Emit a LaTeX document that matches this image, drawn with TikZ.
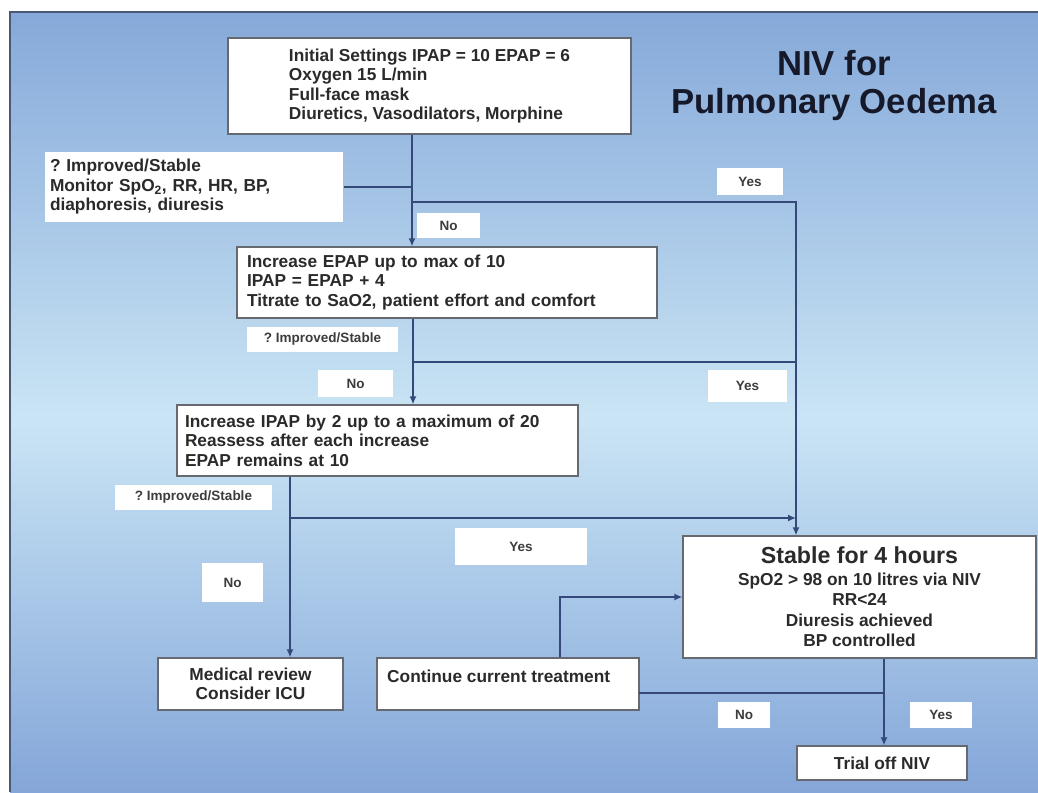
\documentclass[tikz,border=0pt]{standalone}
\usepackage{fontspec}
\setmainfont{Liberation Sans}
\usetikzlibrary{arrows.meta}
\definecolor{bgtop}{HTML}{86A9D9}
\definecolor{bgmid}{HTML}{C9E4F4}
\definecolor{bgbot}{HTML}{84A6D8}
\definecolor{framec}{HTML}{4A5874}
\definecolor{linec}{HTML}{34497A}
\definecolor{boxc}{HTML}{666A70}
\definecolor{txtc}{HTML}{2A2A2A}
\definecolor{labtxt}{HTML}{3C3C3C}
\definecolor{titlec}{HTML}{16192A}
\frenchspacing
\newcommand\mainfnt{\fontsize{17.3}{19.5}\selectfont\bfseries\frenchspacing}
\newcommand\labfnt{\fontsize{13.5}{15}\selectfont\bfseries\frenchspacing}
\begin{document}
\begin{tikzpicture}[x=1pt,y=-1pt,
  box/.style={draw=boxc, line width=1.3pt, fill=white, inner sep=0pt, font=\mainfnt, text=txtc},
  lab/.style={fill=white, inner sep=0pt, font=\labfnt, text=labtxt},
  conn/.style={draw=linec, line width=1.4pt},
  arr/.style={conn, -{Latex[length=8pt,width=7pt]}}]
\useasboundingbox (0,0) rectangle (1038,792);
\fill[white] (0,0) rectangle (1038,792);
% vertical gradient as thin strips
\foreach \i in {0,...,50} {
  \pgfmathsetmacro\ya{12+\i*8}
  \pgfmathsetmacro\yb{\ya+8.6}
  \pgfmathsetmacro\pc{100-\i*2}
  \fill[bgtop!\pc!bgmid] (10,\ya) rectangle (1038,\yb);
}
\foreach \i in {0,...,46} {
  \pgfmathsetmacro\ya{420+\i*8}
  \pgfmathsetmacro\yb{\ya+8.6}
  \pgfmathsetmacro\pc{100-\i*100/46}
  \fill[bgmid!\pc!bgbot] (10,\ya) rectangle (1038,\yb);
}
\draw[framec, line width=1.6pt] (10,792) -- (10,12) -- (1038,12);

% title
\node[font=\fontsize{34.7}{38}\selectfont\bfseries, text=titlec, align=center] (title) at (834,86) {NIV for\\Pulmonary Oedema};

% boxes
\node[box, minimum width=403pt, minimum height=96pt, align=left] (b1) at (429.5,86)
  {Initial Settings IPAP = 10 EPAP = 6\\Oxygen 15 L/min\\Full-face mask\\Diuretics, Vasodilators, Morphine};
\node[box, draw=none, minimum width=298pt, minimum height=70pt, text width=288pt, align=left] (mon) at (194,187)
  {? Improved/Stable\\Monitor SpO\textsubscript{2}, RR, HR, BP,\\diaphoresis, diuresis};
\node[box, minimum width=420pt, minimum height=71pt, text width=400pt, align=left] (b3) at (447,282.5)
  {Increase EPAP up to max of 10\\IPAP = EPAP + 4\\Titrate to SaO2, patient effort and comfort};
\node[box, minimum width=401pt, minimum height=71pt, text width=385pt, align=left] (b4) at (377.5,440.5)
  {Increase IPAP by 2 up to a maximum of 20\\Reassess after each increase\\EPAP remains at 10};
\node[box, minimum width=185pt, minimum height=52pt, align=center] (med) at (250.5,684)
  {Medical review\\Consider ICU};
\node[box, minimum width=262pt, minimum height=52pt] (cont) at (508,684) {};
\node[font=\mainfnt, text=txtc, anchor=west, inner sep=0pt] (conttxt) at (387,676) {Continue current treatment};
\node[box, minimum width=353pt, minimum height=122pt, align=center, font=\fontsize{17.3}{20.5}\selectfont\bfseries] (stab) at (859.5,597)
  {{\fontsize{23.2}{26}\selectfont Stable for 4 hours}\\[1pt]SpO2 > 98 on 10 litres via NIV\\RR<24\\Diuresis achieved\\BP controlled};
\node[box, minimum width=170pt, minimum height=34pt] (trial) at (882,763) {Trial off NIV};

% labels
\node[lab, minimum width=66pt, minimum height=27pt] (yes1) at (750,181.5) {Yes};
\node[lab, minimum width=63pt, minimum height=25pt] (no1) at (448.5,225.5) {No};
\node[lab, minimum width=151pt, minimum height=25pt] (imp2) at (322.5,339.5) {? Improved/Stable};
\node[lab, minimum width=75pt, minimum height=27pt] (no2) at (355.5,383.5) {No};
\node[lab, minimum width=79pt, minimum height=32pt] (yes2) at (747.5,386) {Yes};
\node[lab, minimum width=157pt, minimum height=25pt] (imp3) at (193.5,497.5) {? Improved/Stable};
\node[lab, minimum width=132pt, minimum height=37pt] (yes3) at (521,546.5) {Yes};
\node[lab, minimum width=61pt, minimum height=39pt] (no3) at (232.5,582.5) {No};
\node[lab, minimum width=52pt, minimum height=26pt] (no4) at (744,715) {No};
\node[lab, minimum width=62pt, minimum height=26pt] (yes4) at (941,715) {Yes};

% connector helper coordinates
\coordinate (sp1) at (412,0);
\coordinate (sp2) at (413,0);
\coordinate (sp3) at (290,0);
\coordinate (rx) at (796,0);
\coordinate (j1) at (412,202);
\coordinate (j2) at (413,362);
\coordinate (j3) at (290,518);
\coordinate (cx) at (560,0);
\coordinate (tx) at (884,0);
\coordinate (j4) at (639,693);

% connectors
\draw[arr] (b1.south -| sp1) -- (b3.north -| sp1);
\draw[conn] (mon.east) -- (mon.east -| sp1);
\draw[arr] (j1) -| (stab.north -| rx);
\draw[arr] (b3.south -| sp2) -- (b4.north -| sp2);
\draw[conn] (j2) -- (j2 -| rx);
\draw[arr] (b4.south -| sp3) -- (med.north -| sp3);
\draw[arr] (j3) -- (j3 -| rx);
\draw[arr] (cont.north -| cx) |- (stab.west);
\draw[conn] (j4) -- (j4 -| tx);
\draw[arr] (stab.south -| tx) -- (trial.north -| tx);
\end{tikzpicture}
\end{document}
